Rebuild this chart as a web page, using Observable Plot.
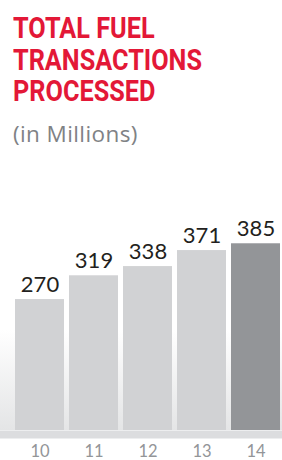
<!DOCTYPE html>
<html>
<head>
<meta charset="utf-8">
<script src="https://cdn.jsdelivr.net/npm/d3@7"></script>
<script src="https://cdn.jsdelivr.net/npm/@observablehq/plot@0.6"></script>
<style>
  html, body { margin: 0; padding: 0; background: #fff; }
  body { width: 282px; height: 460px; overflow: hidden; position: relative;
    background: linear-gradient(to bottom, #ffffff 0px, #ffffff 330px, #e4e5e6 430px, #ffffff 430px); }
  #title { position: absolute; left: 13px; top: 13px; margin: 0; white-space: nowrap;
    font-family: Roboto, "Liberation Sans", sans-serif; font-weight: bold;
    font-size: 29.5px; line-height: 31.5px; color: #e31837; transform-origin: 0 0; }
  #title span { display: inline-block; }
  #subtitle { position: absolute; left: 13px; top: 119px; margin: 0; white-space: nowrap;
    font-family: "Open Sans", sans-serif; font-size: 22.5px; line-height: 30px; letter-spacing: 0.4px; color: #808285; }
  #chart { position: absolute; left: 0; top: 160px; }
</style>
</head>
<body>
<div id="title"><span>TOTAL FUEL</span><br><span id="widest">TRANSACTIONS</span><br><span>PROCESSED</span></div>
<div id="subtitle">(in Millions)</div>
<div id="chart"></div>
<script>
const years = ["10", "11", "12", "13", "14"];
const values = [270, 319, 338, 371, 385];
const fills = ["#d1d2d4", "#d1d2d4", "#d1d2d4", "#d1d2d4", "#939598"];

const data = years.map((y, i) => ({year: y, value: values[i], fill: fills[i]}));

// condense the title to the reference's narrow headline width
const widest = document.getElementById("widest").getBoundingClientRect().width;
document.getElementById("title").style.transform = `scaleX(${189 / widest})`;

const chart = Plot.plot({
  width: 282,
  height: 300,
  marginLeft: 14,
  marginRight: 1,
  marginTop: 76,
  marginBottom: 30,
  style: {background: "transparent", overflow: "visible"},
  x: {domain: years, paddingInner: 0.1, paddingOuter: 0, axis: null},
  y: {domain: [0, 400], axis: null},
  marks: [
    Plot.ruleY([0], {stroke: "#dcdddf", strokeWidth: 8, dy: 4, insetLeft: -14, insetRight: -1}),
    Plot.barY(data, {x: "year", y: "value", fill: "fill"}),
    Plot.text(data, {x: "year", y: "value", text: d => String(d.value), dy: -15,
      fontSize: 22, fill: "#231f20", fontFamily: "Lato, sans-serif"}),
    Plot.axisX({tickSize: 0, tickPadding: 15, fontSize: 16.5, fill: "#939598", label: null,
      fontFamily: "Lato, sans-serif", fontWeight: "normal", letterSpacing: 1})
  ]
});
document.getElementById("chart").appendChild(chart);
</script>
</body>
</html>
